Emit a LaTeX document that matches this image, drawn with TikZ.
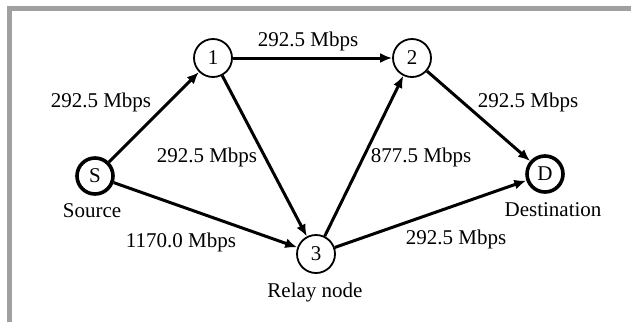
\documentclass[tikz,border=0pt]{standalone}
\usepackage{fontspec}
\setmainfont{Liberation Serif}
\usetikzlibrary{arrows.meta}
\begin{document}
\begin{tikzpicture}[x=1pt,y=-1pt,
  nd/.style={circle,draw,line width=1.8pt,minimum size=38pt,inner sep=0pt,font=\fontsize{21}{25}\selectfont},
  endnd/.style={nd,line width=3.6pt,minimum size=36pt},
  lbl/.style={inner sep=0pt,font=\fontsize{21}{25}\selectfont},
  arr/.style={line width=3pt,-{Latex[length=12pt,width=10pt]}}]
\useasboundingbox (0,0) rectangle (631,322);
\fill[fill={rgb,255:red,160;green,160;blue,160}] (7,6) rectangle (631,11);
\fill[fill={rgb,255:red,160;green,160;blue,160}] (7,6) rectangle (12,322);
\node[endnd] (S) at (95,176) {S};
\node[nd] (n1) at (213,58) {1};
\node[nd] (n2) at (412,58) {2};
\node[nd] (n3) at (316,254) {3};
\node[endnd] (D) at (545,174) {D};
\node[lbl] (ls) at (92,211) {Source};
\node[lbl] (ld) at (553,210) {Destination};
\node[lbl] (lr) at (315,292) {Relay node};
\draw[arr] (S) -- (n1);
\draw[arr] (n1) -- (n2);
\draw[arr] (n1) -- (n3);
\draw[arr] (S) -- (n3);
\draw[arr] (n3) -- (n2);
\draw[arr] (n2) -- (D);
\draw[arr] (n3) -- (D);
\node[lbl] (e1) at (308,41) {292.5 Mbps};
\node[lbl] (e2) at (101,102) {292.5 Mbps};
\node[lbl] (e3) at (207,157) {292.5 Mbps};
\node[lbl] (e4) at (421,157) {877.5 Mbps};
\node[lbl] (e5) at (528,102) {292.5 Mbps};
\node[lbl] (e6) at (181,242) {1170.0 Mbps};
\node[lbl] (e7) at (456,239) {292.5 Mbps};
\end{tikzpicture}
\end{document}
